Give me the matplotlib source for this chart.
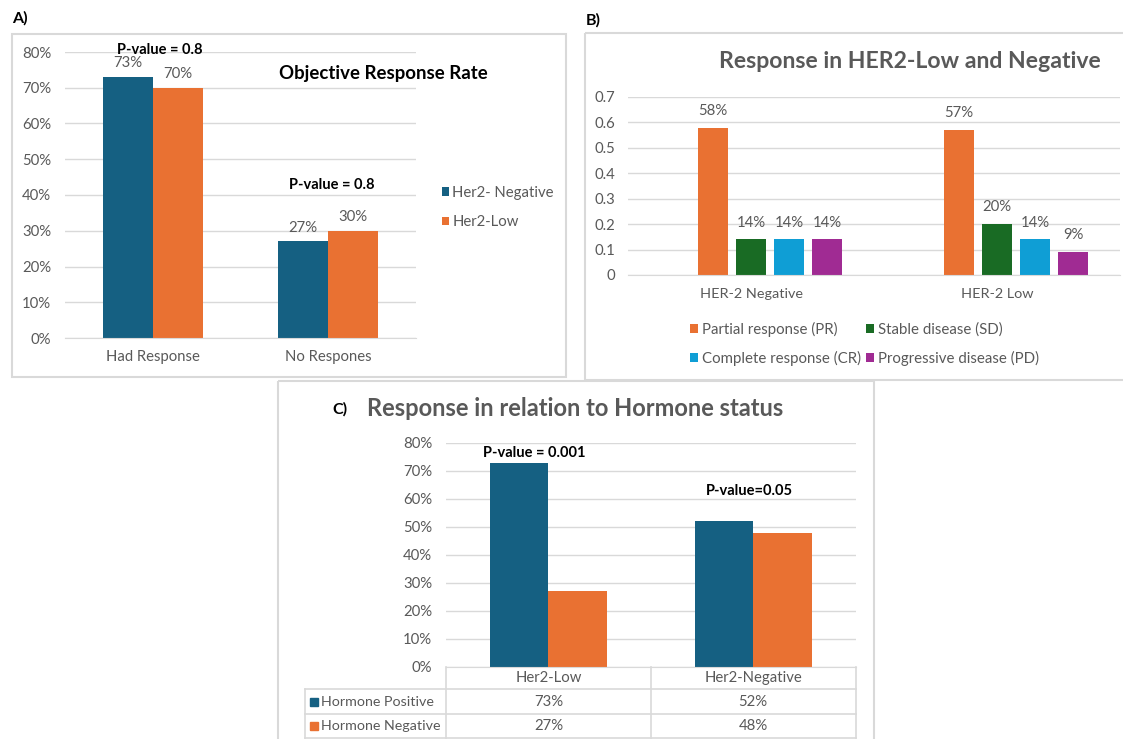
import numpy as np
import matplotlib
matplotlib.use('Agg')
import matplotlib.pyplot as plt
from matplotlib.patches import Rectangle
from matplotlib.ticker import PercentFormatter, MultipleLocator

plt.rcParams['font.family'] = ['Lato', 'DejaVu Sans']

# A) objective response rate
orr_categories = ['Had Response', 'No Respones']
orr_her2_negative = [0.73, 0.27]
orr_her2_low = [0.70, 0.30]

# B) response types by HER2 group
resp_groups = ['HER-2 Negative', 'HER-2 Low']
resp_names = ['Partial response (PR)', 'Stable disease (SD)',
              'Complete response (CR)', 'Progressive disease (PD)']
partial_resp = [0.58, 0.57]
stable_dis = [0.14, 0.20]
complete_resp = [0.14, 0.14]
progressive_dis = [0.14, 0.09]

# C) response by hormone status
hormone_groups = ['Her2-Low', 'Her2-Negative']
hormone_names = ['Hormone Positive', 'Hormone Negative']
hormone_positive = [0.73, 0.52]
hormone_negative = [0.27, 0.48]

BLUE = '#156082'
ORANGE = '#E97132'
GREEN = '#196B24'
CYAN = '#0F9ED5'
PURPLE = '#A02B93'
GRID = '#d9d9d9'
TXT = '#595959'
FS = 10.7

W, H = 1123, 739
fig = plt.figure(figsize=(W / 100, H / 100), dpi=100)


def rect(x0, y0, x1, y1):
    return [x0 / W, 1 - y1 / H, (x1 - x0) / W, (y1 - y0) / H]


# pixel-space layer for frames, panel letters and the table
ov = fig.add_axes([0, 0, 1, 1])
ov.set_xlim(0, W)
ov.set_ylim(H, 0)
ov.axis('off')
for x0, y0, x1, y1 in [(12, 34, 566, 377), (585, 33, 1130, 380), (278, 381, 874, 745)]:
    ov.add_patch(Rectangle((x0, y0), x1 - x0, y1 - y0, fill=False, ec=GRID, lw=1.5))
ov.text(12, 18, 'A)', fontsize=11.5, fontweight='bold', va='center')
ov.text(586, 20, 'B)', fontsize=11.5, fontweight='bold', va='center')
ov.text(340, 409, 'C)', fontsize=11.5, fontweight='bold', va='center', ha='center')


def style_axes(ax, top):
    ax.set_ylim(0, top)
    ax.set_xlim(-0.5, 1.5)
    for s in ['top', 'right', 'left']:
        ax.spines[s].set_visible(False)
    ax.spines['bottom'].set_color(GRID)
    ax.grid(axis='y', color=GRID, lw=1)
    ax.set_axisbelow(True)
    ax.tick_params(length=0, labelcolor=TXT, labelsize=FS)
    ax.patch.set_alpha(0)


# ---- A ----
axA = fig.add_axes(rect(65, 52, 416, 338))
style_axes(axA, 0.8)
axA.yaxis.set_major_locator(MultipleLocator(0.1))
axA.yaxis.set_major_formatter(PercentFormatter(1.0, decimals=0))
axA.tick_params(axis='y', pad=10)
axA.tick_params(axis='x', pad=9)
x = np.arange(len(orr_categories))
bw = 0.285
b1 = axA.bar(x - bw / 2, orr_her2_negative, bw, color=BLUE, label='Her2- Negative')
b2 = axA.bar(x + bw / 2, orr_her2_low, bw, color=ORANGE, label='Her2-Low')
for b, vals in [(b1, orr_her2_negative), (b2, orr_her2_low)]:
    axA.bar_label(b, labels=[f'{v:.0%}' for v in vals], padding=5, color=TXT, fontsize=FS)
axA.set_xticks(x, orr_categories)
axA.text(0.04, 0.806, 'P-value = 0.8', ha='center', va='center', fontsize=10.5, fontweight='bold')
axA.text(1.02, 0.428, 'P-value = 0.8', ha='center', va='center', fontsize=10.5, fontweight='bold')
ov.text(383, 74, 'Objective Response Rate', ha='center', va='center', fontsize=13.4, fontweight='bold')
axA.legend(loc='center left', bbox_to_anchor=(1.074, 0.457), frameon=False, fontsize=FS,
           labelcolor=TXT, handlelength=0.5, handleheight=0.5, handletextpad=0.2,
           labelspacing=1.04, borderaxespad=0, borderpad=0)

# ---- B ----
axB = fig.add_axes(rect(628, 97, 1120, 275))
style_axes(axB, 0.7)
axB.yaxis.set_major_locator(MultipleLocator(0.1))
axB.yaxis.set_major_formatter(lambda v, p: '0' if abs(v) < 1e-9 else f'{v:.1f}')
axB.tick_params(axis='y', pad=9)
axB.tick_params(axis='x', pad=9, labelsize=10.4)
xb = np.arange(len(resp_groups))
pitch, bwB = 0.1545, 0.122
series = [partial_resp, stable_dis, complete_resp, progressive_dis]
colors = [ORANGE, GREEN, CYAN, PURPLE]
handles = []
for i, (vals, c, name) in enumerate(zip(series, colors, resp_names)):
    bars = axB.bar(xb + (i - 1) * pitch, vals, bwB, color=c, label=name)
    axB.bar_label(bars, labels=[f'{v:.0%}' for v in vals], padding=7, color=TXT, fontsize=FS)
    handles.append(bars)
axB.set_xticks(xb, resp_groups)
ov.text(910, 62, 'Response in HER2-Low and Negative', ha='center', va='center',
        fontsize=16.6, fontweight='bold', color=TXT)
order = [0, 2, 1, 3]
axB.legend([handles[i] for i in order], [resp_names[i] for i in order],
           loc='center', bbox_to_anchor=(0.481, -0.387), ncol=2, frameon=False,
           fontsize=10.8, labelcolor=TXT, handlelength=0.53, handleheight=0.53,
           handletextpad=0.27, columnspacing=0.33, labelspacing=0.95, borderpad=0)

# ---- C ----
cl, cr_, ct, cb = 446, 855.6, 443, 667
axC = fig.add_axes(rect(cl, ct, cr_, cb))
style_axes(axC, 0.8)
axC.yaxis.set_major_locator(MultipleLocator(0.1))
axC.yaxis.set_major_formatter(PercentFormatter(1.0, decimals=0))
axC.tick_params(axis='y', pad=10)
axC.set_xticks([])
xc = np.arange(len(hormone_groups))
bwC = 0.286
axC.bar(xc - bwC / 2, hormone_positive, bwC, color=BLUE)
axC.bar(xc + bwC / 2, hormone_negative, bwC, color=ORANGE)
axC.text(-0.07, 0.764, 'P-value = 0.001', ha='center', va='center', fontsize=10.5, fontweight='bold')
axC.text(0.98, 0.629, 'P-value=0.05', ha='center', va='center', fontsize=10.5, fontweight='bold')
ov.text(367, 409, 'Response in relation to Hormone status', ha='left', va='center',
        fontsize=17, fontweight='bold', color=TXT)

# data table under panel C
rows_y = [667, 689, 714, 738]
tab_left = 305
col_w = (cr_ - cl) / len(hormone_groups)
col_edges = [cl + i * col_w for i in range(len(hormone_groups) + 1)]
for y in rows_y[1:]:
    ov.plot([tab_left, cr_], [y, y], color=GRID, lw=1.2)
ov.plot([tab_left, tab_left], [rows_y[1], rows_y[-1]], color=GRID, lw=1.2)
for xe in col_edges:
    ov.plot([xe, xe], [rows_y[0], rows_y[-1]], color=GRID, lw=1.2)
for j, g in enumerate(hormone_groups):
    xm = (col_edges[j] + col_edges[j + 1]) / 2
    ov.text(xm, (rows_y[0] + rows_y[1]) / 2, g, ha='center', va='center', fontsize=FS, color=TXT)
for r, (name, vals, c) in enumerate(zip(hormone_names, [hormone_positive, hormone_negative], [BLUE, ORANGE])):
    ym = (rows_y[r + 1] + rows_y[r + 2]) / 2
    ov.add_patch(Rectangle((310, ym - 4), 8, 8, color=c))
    ov.text(321, ym, name, ha='left', va='center', fontsize=10.3, color=TXT)
    for j, v in enumerate(vals):
        xm = (col_edges[j] + col_edges[j + 1]) / 2
        ov.text(xm, ym, f'{v:.0%}', ha='center', va='center', fontsize=FS, color=TXT)

fig.savefig('out.png', dpi=100)
